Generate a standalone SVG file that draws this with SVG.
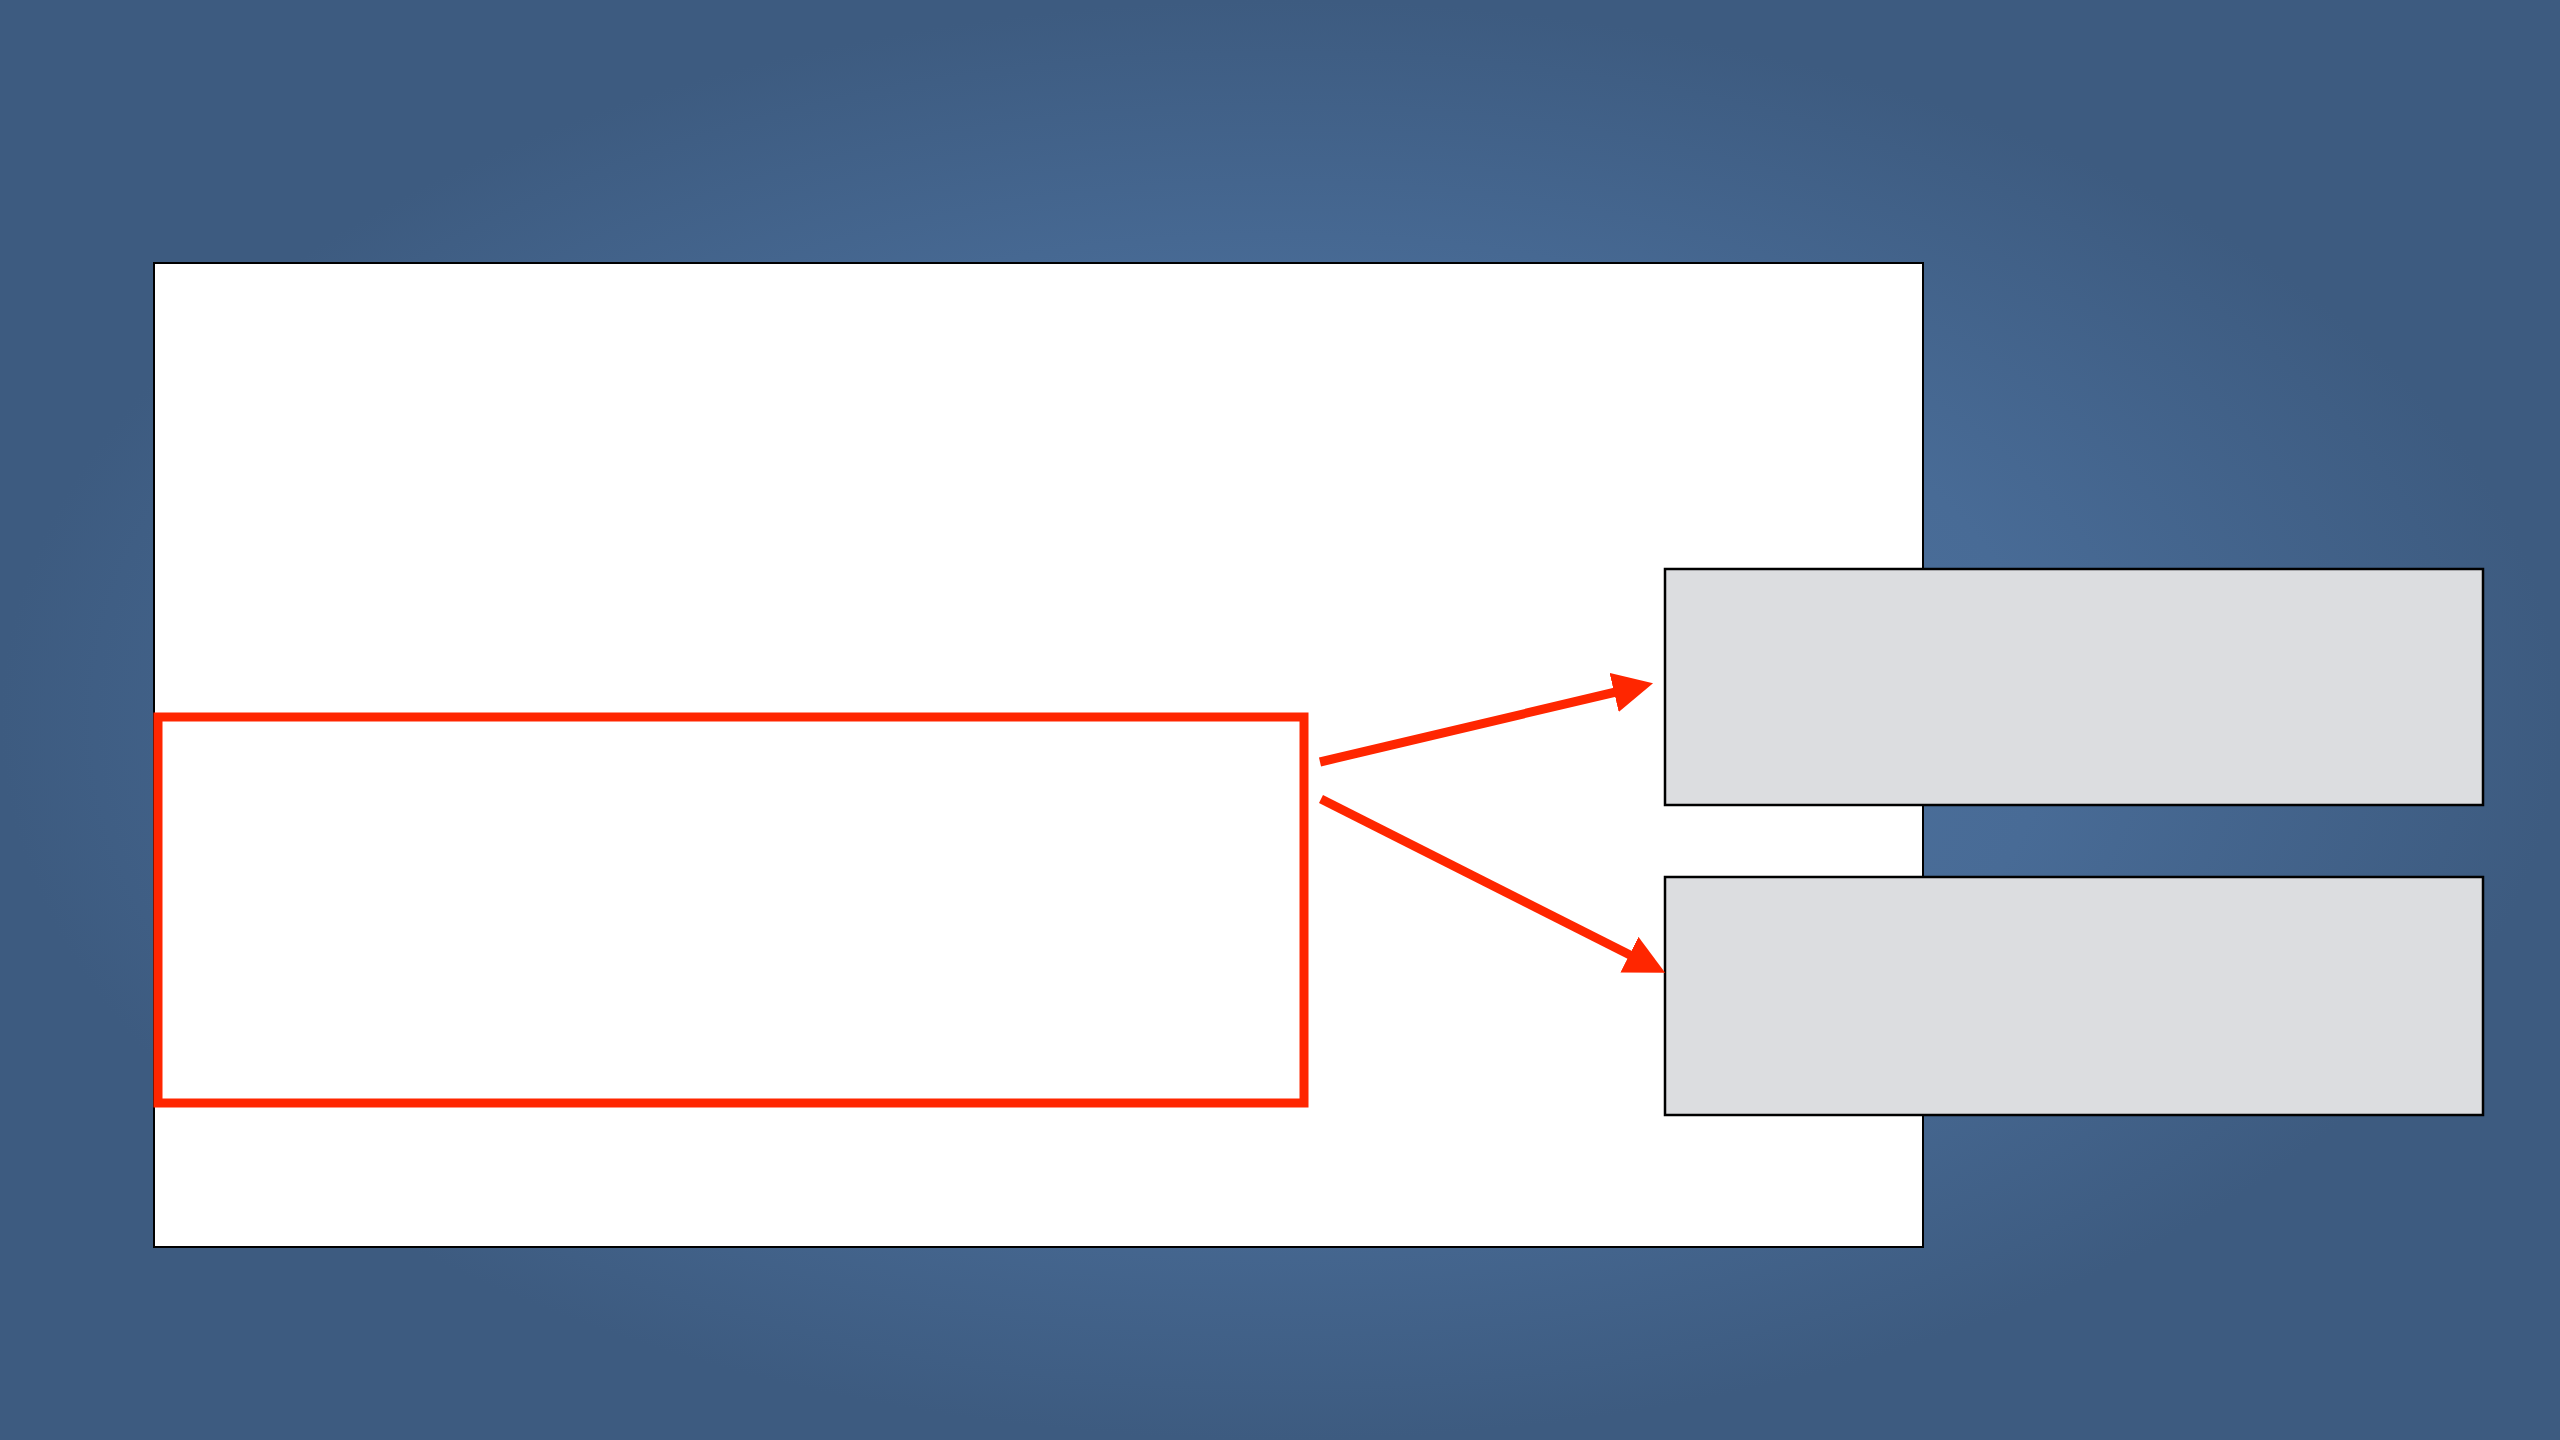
<svg xmlns="http://www.w3.org/2000/svg" width="2560" height="1440" viewBox="0 0 2560 1440">
  <style>
    .panel { fill: #ffffff; stroke: #000000; stroke-width: 2; }
    .box { fill: #dcdde0; stroke: #000000; stroke-width: 2.5; }
    .focus { fill: none; stroke: #ff2600; stroke-width: 9; }
    .conn { fill: none; stroke: #ff2600; stroke-width: 9; }
  </style>
  <defs>
    <radialGradient id="bg" cx="0.5" cy="0.5" r="0.5" fx="0.5" fy="0.5">
      <stop offset="0" stop-color="#5075a3"/>
      <stop offset="0.6" stop-color="#486b96"/>
      <stop offset="1" stop-color="#3d5b80"/>
    </radialGradient>
    <marker id="arrow" viewBox="0 0 10 10" refX="1" refY="5" markerWidth="40" markerHeight="40" markerUnits="userSpaceOnUse" orient="auto">
      <path d="M0,0 L10,5 L0,10 z" fill="#ff2600"/>
    </marker>
  </defs>

  <g id="background">
    <rect x="0" y="0" width="2560" height="1440" fill="#3d5b80"/>
    <rect x="0" y="0" width="2560" height="1440" fill="url(#bg)"/>
  </g>

  <g id="panel">
    <rect class="panel" x="154" y="263" width="1769" height="984"/>
  </g>

  <g id="focus-region">
    <rect class="focus" x="158" y="717" width="1146" height="386"/>
  </g>

  <g id="box-top">
    <rect class="box" x="1665" y="569" width="818" height="236"/>
  </g>

  <g id="box-bottom">
    <rect class="box" x="1665" y="877" width="818" height="238"/>
  </g>

  <g id="connectors">
    <line class="conn" x1="1320" y1="762" x2="1618" y2="691.5" marker-end="url(#arrow)"/>
    <line class="conn" x1="1321" y1="799" x2="1633" y2="956.5" marker-end="url(#arrow)"/>
  </g>
</svg>
